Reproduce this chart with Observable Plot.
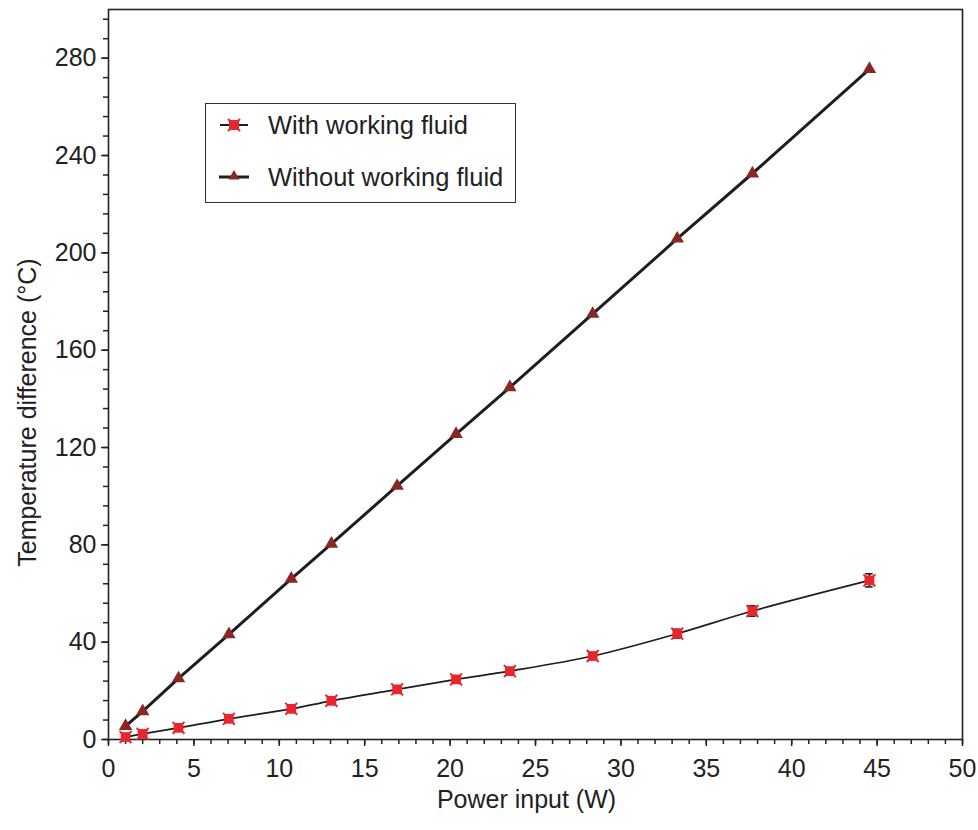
<!DOCTYPE html>
<html><head><meta charset="utf-8">
<script src="https://cdn.jsdelivr.net/npm/d3@7"></script>
<script src="https://cdn.jsdelivr.net/npm/@observablehq/plot@0.6"></script>
<style>
body{margin:0;background:#fff}
#wrap{position:relative;width:978px;height:830px;font-family:"Liberation Sans",Arial,Helvetica,sans-serif;color:#222}
#legend{position:absolute;left:205px;top:103px;width:309px;height:98px;border:1.5px solid #333;background:#fff}
.row{position:absolute;left:0;height:30px;display:flex;align-items:center;font-size:25.5px;white-space:nowrap}
.row svg{margin-left:12px;margin-right:18px}
</style>
</head><body><div id="wrap"></div>
<script>
// Power input (W)
const power = [1.0, 2.0, 4.1, 7.05, 10.7, 13.05, 16.9, 20.35, 23.5, 28.35, 33.3, 37.7, 44.55];
// Temperature difference (°C), with working fluid
const withFluid = [1.0, 2.3, 4.8, 8.5, 12.6, 15.9, 20.6, 24.7, 28.1, 34.3, 43.5, 52.8, 65.4];
const withFluidErr = [0.6, 0.6, 0.7, 0.8, 0.9, 1.0, 1.0, 1.1, 1.2, 1.4, 1.8, 2.1, 2.7];
// Temperature difference (°C), without working fluid
const withoutFluid = [5.5, 11.6, 25.1, 43.2, 66.0, 80.4, 104.2, 125.5, 144.7, 174.9, 205.8, 232.6, 275.5];
const seriesNames = ["With working fluid", "Without working fluid"];
const xTicks = [0, 5, 10, 15, 20, 25, 30, 35, 40, 45, 50];
const yTicks = [0, 40, 80, 120, 160, 200, 240, 280];
const xLabel = "Power input (W)";
const yLabel = "Temperature difference (°C)";

const rowsWith = power.map((x, i) => ({x, y: withFluid[i], e: withFluidErr[i]}));
const rowsWithout = power.map((x, i) => ({x, y: withoutFluid[i]}));
const xMinor = d3.range(0, 51, 1);
const yMinor = d3.range(0, 300, 8);

const red = "#e8262d", dark = "#8c2622", ink = "#1e1e1e";
const font = '"Liberation Sans",Arial,Helvetica,sans-serif';

const chart = Plot.plot({
  width: 978, height: 830,
  marginLeft: 108, marginRight: 16, marginTop: 9, marginBottom: 91,
  x: {domain: [0, 50]},
  y: {domain: [0, 300]},
  style: {fontFamily: font, fontSize: "25px", color: "#222", background: "white", overflow: "visible"},
  marks: [
    Plot.axisY({ticks: yMinor, tickSize: 5, tickFormat: () => "", label: null, strokeWidth: 1.5}),
    Plot.axisX({ticks: xMinor, tickSize: 5, tickFormat: () => "", label: null, strokeWidth: 1.5}),
    Plot.axisY({ticks: yTicks, tickSize: 7, tickPadding: 5, label: null, strokeWidth: 1.5, fontSize: 25}),
    Plot.axisX({ticks: xTicks, tickSize: 7, tickPadding: 13, label: null, strokeWidth: 1.5, fontSize: 25}),
    Plot.frame({stroke: "#222", strokeWidth: 1.6}),
    Plot.text([yLabel], {frameAnchor: "left", dx: -81, dy: 38, rotate: -90, textAnchor: "middle", lineAnchor: "middle", fontSize: 25, fill: "#222"}),
    Plot.text([xLabel], {frameAnchor: "bottom", dy: 60, dx: -9, textAnchor: "middle", lineAnchor: "middle", fontSize: 25, fill: "#222"}),
    Plot.line(rowsWithout, {x: "x", y: "y", stroke: ink, strokeWidth: 3}),
    Plot.line(rowsWith, {x: "x", y: "y", stroke: ink, strokeWidth: 1.7, curve: "catmull-rom"}),
    Plot.ruleX(rowsWith, {x: "x", y1: d => d.y - d.e, y2: d => d.y + d.e, stroke: "#111", strokeWidth: 1.5}),
    Plot.ruleY(rowsWith, {y: d => d.y + d.e, x1: d => d.x - 0.22, x2: d => d.x + 0.22, stroke: "#111", strokeWidth: 1.5}),
    Plot.ruleY(rowsWith, {y: d => d.y - d.e, x1: d => d.x - 0.22, x2: d => d.x + 0.22, stroke: "#111", strokeWidth: 1.5}),
    Plot.dot(rowsWith, {x: "x", y: "y", symbol: "square", r: 5.5, fill: red, stroke: "none"}),
    Plot.dot(rowsWith, {x: "x", y: "y", symbol: "times", r: 5.5, stroke: red, strokeWidth: 2}),
    Plot.dot(rowsWithout, {x: "x", y: "y", symbol: "triangle", r: 5, fill: dark, stroke: "none"})
  ]
});
const wrap = document.getElementById("wrap");
wrap.appendChild(chart);

const legend = document.createElement("div");
legend.id = "legend";
legend.innerHTML = `
<div class="row" style="top:6px">
  <svg width="32" height="20"><line x1="2" x2="30" y1="10" y2="10" stroke="${ink}" stroke-width="2"/>
  <rect x="11" y="5" width="10" height="10" fill="${red}"/><path d="M10,4L22,16M22,4L10,16" stroke="${red}" stroke-width="2"/></svg>
  <span>${seriesNames[0]}</span></div>
<div class="row" style="top:58px">
  <svg width="32" height="20"><line x1="1" x2="31" y1="10" y2="10" stroke="${ink}" stroke-width="3"/>
  <path d="M16,3L21.5,12.5L10.5,12.5Z" fill="${dark}"/></svg>
  <span>${seriesNames[1]}</span></div>`;
wrap.appendChild(legend);
</script>
</body></html>
